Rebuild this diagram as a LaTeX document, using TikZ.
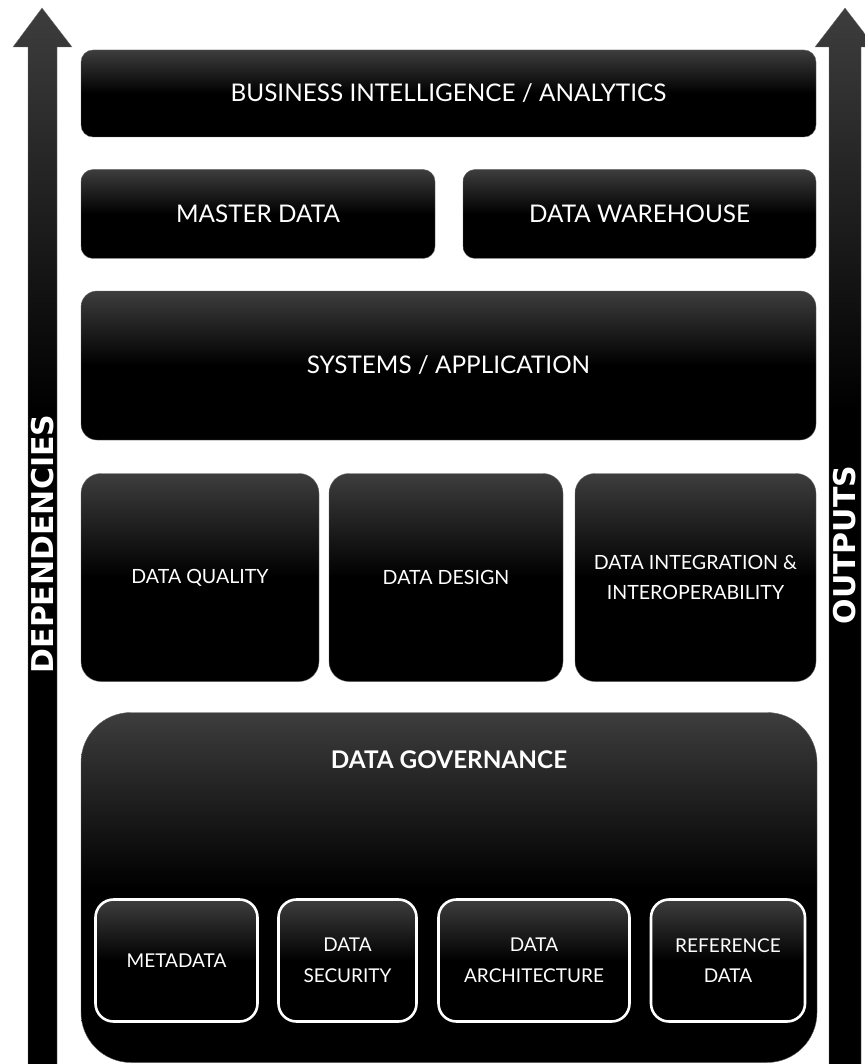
\documentclass[tikz,border=0pt]{standalone}
\usepackage{fontspec}
\setmainfont{Lato}
\newfontfamily\widebold{DejaVu Sans}
\pgfdeclareverticalshading{boxshade}{100bp}{color(0bp)=(black); color(25bp)=(black); color(50bp)=(black); color(75bp)=(black!76); color(100bp)=(black!76)}
\pgfdeclareverticalshading{arrowshade}{100bp}{color(0bp)=(black); color(25bp)=(black); color(56bp)=(black); color(75bp)=(black!76); color(100bp)=(black!76)}
\tikzset{
  blk/.style={shade, shading=boxshade, draw=black!60, line width=0.4pt, inner sep=0pt, outer sep=0pt,
    text=white, align=center, font=\fontsize{24.3}{30}\selectfont},
  midblk/.style={blk, rounded corners=20pt, font=\fontsize{19.6}{30}\selectfont},
  inblk/.style={shade, shading=boxshade, draw=white, line width=2.6pt, rounded corners=18pt, inner sep=0pt,
    text=white, align=center, font=\fontsize{19}{30.5}\selectfont},
  sidelbl/.style={text=white, font=\widebold\fontsize{30}{32}\selectfont\bfseries, rotate=90, inner sep=0pt},
  arrowbody/.style={shading=arrowshade, draw=black!55, line width=0.3pt}
}
\begin{document}
\begin{tikzpicture}[x=1pt,y=-1pt]
\useasboundingbox (0,0) rectangle (864,1064);
% arrows
\shade[arrowbody] (42,8) -- (72,47) -- (57,47) -- (57,1070) -- (28,1070) -- (28,47) -- (13,47) -- cycle;
\shade[arrowbody] (845,8) -- (875,47) -- (861,47) -- (861,1070) -- (829,1070) -- (829,47) -- (815,47) -- cycle;
\node[sidelbl] (dep) at (43,544) {DEPENDENCIES};
\node[sidelbl] (out) at (845,545) {OUTPUTS};
% top boxes
\node[blk, rounded corners=12pt, minimum width=735pt, minimum height=87pt] (bi) at (448.5,93.5) {BUSINESS INTELLIGENCE / ANALYTICS};
\node[blk, rounded corners=12pt, minimum width=354pt, minimum height=89pt] (md) at (258,214) {MASTER DATA};
\node[blk, rounded corners=12pt, minimum width=353pt, minimum height=89pt] (dw) at (639.5,214) {DATA WAREHOUSE};
\node[blk, rounded corners=16pt, minimum width=735pt, minimum height=149pt] (sys) at (448.5,365.5) {SYSTEMS / APPLICATION};
% middle
\node[midblk, minimum width=238pt, minimum height=208pt] (dq) at (200,577.5) {DATA QUALITY};
\node[midblk, minimum width=234pt, minimum height=208pt] (dd) at (446,577.5) {DATA DESIGN};
\node[midblk, minimum width=241pt, minimum height=208pt] (di) at (695.5,577.5) {DATA INTEGRATION \&\\INTEROPERABILITY};
% governance
\node[blk, rounded corners=50pt, minimum width=736pt, minimum height=350pt] (dg) at (449,887.5) {};
\node[text=white, font=\fontsize{24.3}{28}\selectfont\bfseries, inner sep=0pt] (dgl) at (449,760) {DATA GOVERNANCE};
\node[inblk, minimum width=162pt, minimum height=122pt] (meta) at (176.5,960.5) {METADATA};
\node[inblk, minimum width=138pt, minimum height=122pt] (sec) at (347.5,960.5) {DATA\\SECURITY};
\node[inblk, minimum width=191pt, minimum height=122pt] (arch) at (534,960.5) {DATA\\ARCHITECTURE};
\node[inblk, minimum width=154pt, minimum height=122pt] (ref) at (728,960.5) {REFERENCE\\DATA};
\end{tikzpicture}
\end{document}
